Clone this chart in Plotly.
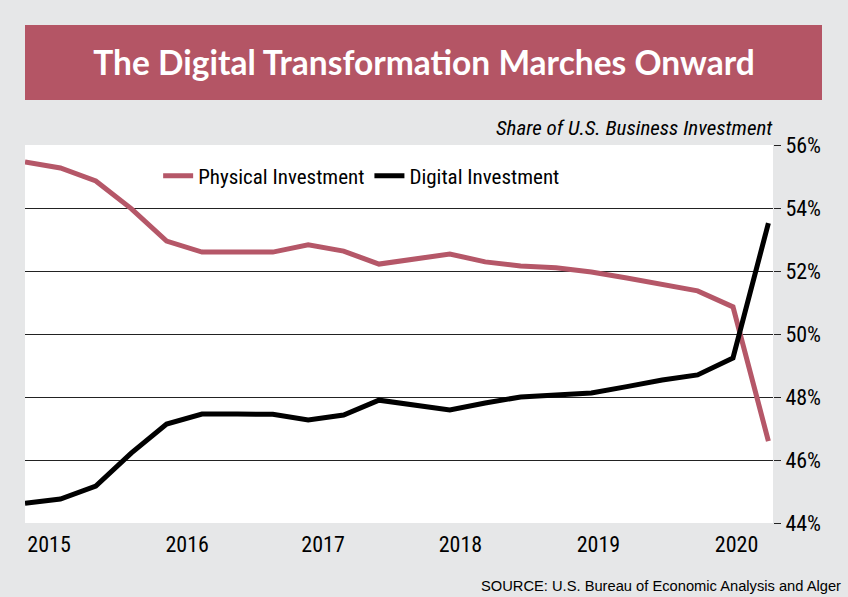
import plotly.graph_objects as go

# Quarterly observations (index 0 = first quarter shown)
quarters = list(range(22))
physical = [55.46, 55.27, 54.86, 53.98, 52.95, 52.60, 52.60, 52.60, 52.83, 52.63, 52.22,
            52.38, 52.54, 52.29, 52.16, 52.10, 51.97, 51.78, 51.56, 51.37, 50.86, 46.60]
digital = [44.63, 44.76, 45.17, 46.22, 47.14, 47.46, 47.46, 47.45, 47.27, 47.43, 47.90,
           47.75, 47.59, 47.81, 48.00, 48.06, 48.13, 48.33, 48.54, 48.70, 49.24, 53.52]

year_labels = ["2015", "2016", "2017", "2018", "2019", "2020"]
year_pos = [0.68, 4.58, 8.42, 12.3, 16.2, 20.1]
y_ticks = [44, 46, 48, 50, 52, 54, 56]

NARROW = "Roboto Condensed, Liberation Sans Narrow, sans-serif"
BG = "#e6e7e8"
ROSE = "#b55768"

fig = go.Figure()
fig.add_trace(go.Scatter(x=quarters, y=physical, mode="lines", name="Physical Investment",
                         line=dict(color=ROSE, width=5)))
fig.add_trace(go.Scatter(x=quarters, y=digital, mode="lines", name="Digital Investment",
                         line=dict(color="#000000", width=5)))

fig.update_layout(
    width=848, height=597,
    margin=dict(l=25, r=75, t=145, b=74),
    paper_bgcolor=BG, plot_bgcolor="#ffffff",
    font=dict(family=NARROW, size=22, color="#000000"),
    title=dict(text="<b>The Digital Transformation Marches Onward</b>",
               x=0.5, xref="container", xanchor="center",
               y=1 - 63 / 597, yref="container", yanchor="middle",
               font=dict(family="Lato, Open Sans, sans-serif", size=33.5, color="#ffffff")),
    showlegend=True,
    legend=dict(orientation="h", x=0.178, xanchor="left", y=1 - (176 - 145) / 378, yanchor="middle",
                bgcolor="rgba(0,0,0,0)", font=dict(family=NARROW, size=21, color="#000"),
                itemwidth=30, traceorder="normal"),
    xaxis=dict(range=[0, 21.13], showgrid=False, zeroline=False, showline=False,
               tickmode="array", tickvals=year_pos, ticktext=year_labels, ticks="",
               tickfont=dict(family=NARROW, size=22), ticklabelstandoff=6, fixedrange=True),
    yaxis=dict(range=[44, 56], side="right", tickmode="array", tickvals=y_ticks,
               ticktext=[f"{v}%" for v in y_ticks], showgrid=True, gridcolor="#222222",
               gridwidth=1, zeroline=False, showline=False, ticks="outside", ticklen=7,
               tickcolor="#222222", tickwidth=1, tickfont=dict(family=NARROW, size=22),
               fixedrange=True),
    shapes=[dict(type="rect", xref="paper", yref="paper",
                 x0=0, x1=(822 - 25) / 748, y0=(523 - 100) / 378, y1=(523 - 25) / 378,
                 fillcolor="#b45565", line=dict(width=0), layer="below")],
    annotations=[
        dict(text="<i>Share of U.S. Business Investment</i>", xref="paper", yref="paper",
             x=(775 - 25) / 748, xanchor="right", y=(523 - 128) / 378, yanchor="middle",
             showarrow=False, font=dict(family=NARROW, size=21, color="#000")),
        dict(text="SOURCE: U.S. Bureau of Economic Analysis and Alger", xref="paper", yref="paper",
             x=(843 - 25) / 748, xanchor="right", y=(523 - 586) / 378, yanchor="middle",
             showarrow=False, font=dict(family="Liberation Sans, Arial, sans-serif", size=14.7, color="#000")),
    ],
)

fig.write_html("out.html")
